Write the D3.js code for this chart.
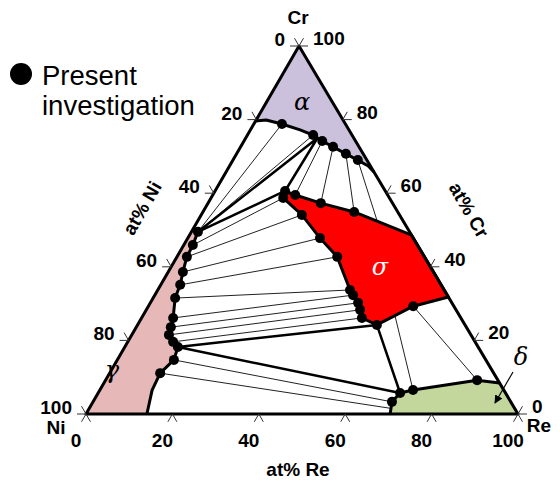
<!DOCTYPE html>
<html><head><meta charset="utf-8">
<script src="https://cdn.jsdelivr.net/npm/d3@7"></script>
<style>body{margin:0;background:#fff}svg{display:block}</style>
</head><body><svg id="c" width="560" height="484"></svg>
<script>
// Compositions are [at% Re, at% Cr]; Ni is the balance.
const tickValues = [0, 20, 40, 60, 80, 100];

// single-phase field boundaries
const alphaBoundary = [[0,79.6],[2.3,79.9],[6.5,78.8],[11.5,77.2],[15.2,75.8],[18.1,74.2],[21.4,72.6],[25.3,70.7],[28.9,69.0],[32.1,67.4],[34.2,65.8]];
const gammaBoundary = [[0,49.8],[1.5,49.5],[2.1,45.9],[2.3,42.7],[3.4,38.6],[4.5,35.1],[5.1,31.5],[7.3,26.1],[8.0,23.6],[8.6,21.5],[10.5,19.6],[12.3,18.2],[13.1,14.7],[11.7,11.1],[12.1,6.5],[14.1,0]];
const sigmaBoundary = [[16.2,60.6],[19.1,59.5],[26.1,57.3],[35.0,54.9],[51.4,48.6],[68.2,31.8],[61.3,29.3],[55.4,24.2],[51.0,26.1],[49.5,28.3],[48.1,30.2],[45.9,32.3],[44.5,33.7],[37.1,42.7],[30.6,47.8],[23.3,54.1],[16.7,58.7]];
const deltaBoundary = [[70.4,0],[69.2,3.3],[69.9,5.7],[72.5,6.5],[86.0,9.2],[91.6,8.4],[100,0]];

// three-phase triangles
const threePhase = [
  [[16.6,75.0],[16.2,60.6],[1.5,49.5]],
  [[55.4,24.2],[12.3,18.2],[69.9,5.7]]
];

// two-phase tie lines
const tieLines = [
  // alpha + gamma
  [[6.5,78.8],[1.5,49.5]],[[15.2,75.8],[1.5,49.5]],
  // alpha + sigma
  [[18.1,74.2],[19.1,59.5]],[[21.4,72.6],[26.1,57.3]],[[25.3,70.7],[35.0,54.9]],[[28.9,69.0],[41.5,52.5]],
  // sigma + gamma
  [[16.7,58.7],[2.1,45.9]],[[23.3,54.1],[2.3,42.7]],[[30.6,47.8],[3.4,38.6]],[[37.1,42.7],[4.5,35.1]],[[44.5,33.7],[5.1,31.5]],
  [[45.9,32.3],[7.3,26.1]],[[48.1,30.2],[8.0,23.6]],[[49.5,28.3],[8.6,21.5]],[[51.0,26.1],[10.5,19.6]],
  // gamma + delta
  [[13.1,14.7],[69.2,3.3]],[[11.7,11.1],[70.0,1.5]],
  // sigma + delta
  [[61.3,29.3],[86.0,9.2]],[[58.5,26.5],[72.5,6.5]]
];

// measured compositions
const alphaPoints = [[6.5,78.8],[15.2,75.8],[18.1,74.2],[21.4,72.6],[25.3,70.7],[28.9,69.0]];
const sigmaPoints = [[16.2,60.6],[16.7,58.7],[19.1,59.5],[26.1,57.3],[35.0,54.9],[23.3,54.1],[30.6,47.8],[37.1,42.7],[44.5,33.7],[45.9,32.3],[48.1,30.2],[49.5,28.3],[51.0,26.1],[55.4,24.2],[61.3,29.3]];
const gammaPoints = [[1.5,49.5],[2.1,45.9],[2.3,42.7],[3.4,38.6],[4.5,35.1],[5.1,31.5],[7.3,26.1],[8.0,23.6],[8.6,21.5],[10.5,19.6],[12.3,18.2],[13.1,14.7],[11.7,11.1]];
const deltaPoints = [[69.2,3.3],[69.9,5.7],[72.5,6.5],[86.0,9.2]];

const svg = d3.select("#c");
const reX = d3.scaleLinear().domain([0,100]).range([0,432]);
const crX = d3.scaleLinear().domain([0,100]).range([0,213]);
const crY = d3.scaleLinear().domain([0,100]).range([414,46]);
const P = ([re,cr]) => [86 + reX(re) + crX(cr), crY(cr)];
const line = d3.line().x(d => P(d)[0]).y(d => P(d)[1]);

// phase fields
svg.append("path").attr("d", line([...alphaBoundary, [0,100]]) + "Z").attr("fill","#ccc1dc");
svg.append("path").attr("d", line([...gammaBoundary, [0,0]]) + "Z").attr("fill","#e6b9b8");
svg.append("path").attr("d", line(sigmaBoundary) + "Z").attr("fill","#ff0000");
svg.append("path").attr("d", line(deltaBoundary) + "Z").attr("fill","#c3d69b");

// tie lines
svg.append("g").selectAll("path").data(tieLines).join("path")
  .attr("d", line).attr("fill","none").attr("stroke","#222").attr("stroke-width",1);

// boundaries
const thick = (pts, close, w) => svg.append("path").attr("d", line(pts) + (close ? "Z" : "")).attr("fill","none").attr("stroke","#000").attr("stroke-width", w || 3).attr("stroke-linejoin","round");
threePhase.forEach(t => thick(t, true, 2.5));
thick(alphaBoundary);
thick(gammaBoundary.slice(1));
thick(sigmaBoundary, true);
thick(deltaBoundary.slice(0,6));

// triangle
thick([[0,0],[100,0],[0,100]], true);

// data points
svg.append("g").selectAll("circle").data([...alphaPoints, ...sigmaPoints, ...gammaPoints, ...deltaPoints]).join("circle")
  .attr("cx", d => P(d)[0]).attr("cy", d => P(d)[1]).attr("r", 5).attr("fill","#000");

// ticks
const tickG = svg.append("g").attr("stroke","#333").attr("stroke-width",1);
const L = 9, r = Math.PI/180;
function chevron(pt, a1, a2) {
  const [x,y] = P(pt);
  [a1,a2].forEach(a => tickG.append("line").attr("x1",x).attr("y1",y)
    .attr("x2", x + L*Math.cos(a*r)).attr("y2", y - L*Math.sin(a*r)));
}
const font = "'Liberation Sans', Arial, sans-serif";
const labels = svg.append("g").attr("font-family", font).attr("font-weight","bold").attr("font-size",19).attr("fill","#000");
tickValues.forEach(v => {
  chevron([v,0], 240, 300);
  const [bx,by] = P([v,0]);
  labels.append("text").attr("x", bx - 10).attr("y", by + 33).attr("text-anchor","middle").text(v);
  chevron([0,100 - v], 180, 120);
  const [lx,ly] = P([0,100 - v]);
  labels.append("text").attr("x", lx - 14).attr("y", ly).attr("text-anchor","end").text(v);
  chevron([100 - v, v], 0, 60);
  const [rx,ry] = P([100 - v, v]);
  labels.append("text").attr("x", rx + 14).attr("y", ry - 1).text(v);
});

// axis titles and corners
labels.append("text").attr("x",298).attr("y",24).attr("text-anchor","middle").text("Cr");
labels.append("text").attr("x",56).attr("y",434).attr("text-anchor","middle").text("Ni");
labels.append("text").attr("x",539).attr("y",432).attr("text-anchor","middle").text("Re");
labels.append("text").attr("x",298).attr("y",476).attr("text-anchor","middle").text("at% Re");
labels.append("text").attr("transform","translate(142,208) rotate(-60)").attr("text-anchor","middle").attr("dy","0.35em").text("at% Ni");
labels.append("text").attr("transform","translate(469,210) rotate(60)").attr("text-anchor","middle").attr("dy","0.35em").text("at% Cr");

// phase names
const greek = svg.append("g").attr("font-family","'DejaVu Serif', serif").attr("font-style","italic").attr("font-size",24);
greek.append("text").attr("x",302).attr("y",110).attr("text-anchor","middle").text("α");
greek.append("text").attr("x",380).attr("y",275).attr("text-anchor","middle").attr("fill","#fff").text("σ");
greek.append("text").attr("x",112).attr("y",378).attr("text-anchor","middle").text("γ");
greek.append("text").attr("x",521).attr("y",365).attr("text-anchor","middle").text("δ");

// pointer to the δ field
svg.append("defs").append("marker").attr("id","ah").attr("viewBox","0 0 10 10").attr("refX",9).attr("refY",5)
  .attr("markerWidth",7).attr("markerHeight",7).attr("orient","auto")
  .append("path").attr("d","M0,0L10,5L0,10Z").attr("fill","#000");
svg.append("line").attr("x1",513).attr("y1",372).attr("x2",495).attr("y2",403)
  .attr("stroke","#000").attr("stroke-width",1.2).attr("marker-end","url(#ah)");

// legend
svg.append("circle").attr("cx",21).attr("cy",74).attr("r",11).attr("fill","#000");
svg.append("text").attr("x",42).attr("y",85).attr("font-family",font).attr("font-size",27.5).text("Present");
svg.append("text").attr("x",42).attr("y",115).attr("font-family",font).attr("font-size",27.5).text("investigation");
</script></body></html>
